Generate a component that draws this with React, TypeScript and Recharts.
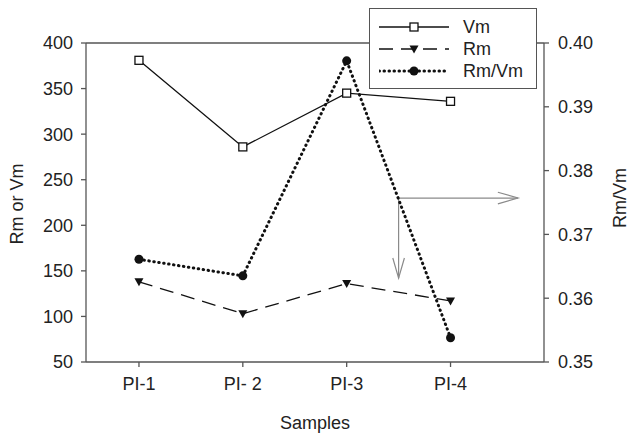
import React from 'react';
import {
  ComposedChart,
  Line,
  XAxis,
  YAxis,
  Legend,
  ReferenceLine,
} from 'recharts';

// sample positions on a numeric x axis, with their labels
const samplePos = [1, 2, 3, 4];
const sampleLabels = ['PI-1', 'PI- 2', 'PI-3', 'PI-4'];

// values
const vmValues = [381, 286, 345, 336];
const rmValues = [138, 103, 136, 117];
const ratioValues = [0.3661, 0.3635, 0.3972, 0.3538];

const leftTicks = [50, 100, 150, 200, 250, 300, 350, 400];
const rightTicks = [0.35, 0.36, 0.37, 0.38, 0.39, 0.4];

// annotation arrows (data coordinates)
const arrowRight = [
  { x: 3.5, y: 0.3757 },
  { x: 4.65, y: 0.3757 },
];
const arrowDown = [
  { x: 3.5, y: 230 },
  { x: 3.5, y: 142 },
];

const data = samplePos.map((x, i) => ({
  x,
  vm: vmValues[i],
  rm: rmValues[i],
  ratio: ratioValues[i],
}));

const FONT = 'Arial, "Liberation Sans", sans-serif';
const INK = '#111';
const AXIS = '#555';
const ARROW = '#8a8a8a';

const tickStyle = { fill: '#222', fontSize: 18, fontFamily: FONT };

const SquareDot = (props: any) => {
  const { cx, cy, index } = props;
  if (cx == null || cy == null) return null;
  return (
    <rect
      key={`sq-${index}`}
      x={cx - 4}
      y={cy - 4}
      width={8}
      height={8}
      fill="#fff"
      stroke={INK}
      strokeWidth={1.3}
    />
  );
};

const TriangleDot = (props: any) => {
  const { cx, cy, index } = props;
  if (cx == null || cy == null) return null;
  return (
    <path
      key={`tr-${index}`}
      d={`M${cx - 4.5},${cy - 3.5} L${cx + 4.5},${cy - 3.5} L${cx},${cy + 4.5} Z`}
      fill={INK}
    />
  );
};

const CircleDot = (props: any) => {
  const { cx, cy, index } = props;
  if (cx == null || cy == null) return null;
  return <circle key={`ci-${index}`} cx={cx} cy={cy} r={4.5} fill={INK} />;
};

// line with an open arrowhead at its end
const arrowShape = (props: any) => {
  const { x1, y1, x2, y2 } = props;
  const ang = Math.atan2(y2 - y1, x2 - x1);
  const len = 21;
  const spread = 0.28;
  const ax = x2 - len * Math.cos(ang - spread);
  const ay = y2 - len * Math.sin(ang - spread);
  const bx = x2 - len * Math.cos(ang + spread);
  const by = y2 - len * Math.sin(ang + spread);
  return (
    <g>
      <line x1={x1} y1={y1} x2={x2} y2={y2} stroke={ARROW} strokeWidth={1.2} />
      <polyline
        points={`${ax},${ay} ${x2},${y2} ${bx},${by}`}
        fill="none"
        stroke={ARROW}
        strokeWidth={1.2}
      />
    </g>
  );
};

// axis title at a fixed spot (tx/ty so Recharts' own x/y props don't override it)
const Title = ({ tx, ty, text, rotate }: { tx: number; ty: number; text: string; rotate?: boolean }) => (
  <text
    x={tx}
    y={ty}
    textAnchor="middle"
    dominantBaseline="central"
    transform={rotate ? `rotate(-90, ${tx}, ${ty})` : undefined}
    fill="#222"
    fontSize={18}
    fontFamily={FONT}
  >
    {text}
  </text>
);

const legendItems = [
  { name: 'Vm', dash: undefined, width: 1.3, marker: 'square' },
  { name: 'Rm', dash: '14 8', width: 1.3, marker: 'triangle' },
  { name: 'Rm/Vm', dash: '0.5 4.5', width: 3, marker: 'circle' },
];

const LegendBox = () => (
  <div
    style={{
      width: 168,
      height: 81,
      boxSizing: 'border-box',
      border: `1.3px solid ${AXIS}`,
      background: '#fff',
      paddingTop: 7,
      paddingLeft: 9,
      fontFamily: FONT,
      fontSize: 18,
      color: '#222',
    }}
  >
    {legendItems.map((it) => (
      <div key={it.name} style={{ height: 22, display: 'flex', alignItems: 'center' }}>
        <svg width={70} height={14}>
          <line
            x1={0}
            y1={7}
            x2={70}
            y2={7}
            stroke={INK}
            strokeWidth={it.width}
            strokeDasharray={it.dash}
            strokeLinecap={it.marker === 'circle' ? 'round' : 'butt'}
          />
          {it.marker === 'square' && (
            <rect x={31} y={3} width={8} height={8} fill="#fff" stroke={INK} strokeWidth={1.3} />
          )}
          {it.marker === 'triangle' && <path d="M30.5,3.5 L39.5,3.5 L35,11.5 Z" fill={INK} />}
          {it.marker === 'circle' && <circle cx={35} cy={7} r={4.5} fill={INK} />}
        </svg>
        <span style={{ marginLeft: 14, lineHeight: 1 }}>{it.name}</span>
      </div>
    ))}
  </div>
);

export default function App() {
  return (
    <div style={{ position: 'absolute', left: 0, top: 0, background: '#fff' }}>
      <ComposedChart
        width={630}
        height={437}
        data={data}
        margin={{ top: 43, right: 20, bottom: 15, left: 20 }}
      >
        <XAxis
          dataKey="x"
          type="number"
          domain={[0.49, 4.9]}
          ticks={samplePos}
          tickFormatter={(v: number) => sampleLabels[v - 1]}
          allowDataOverflow
          height={60}
          tickSize={5}
          tickMargin={10}
          tick={tickStyle}
          stroke={AXIS}
          axisLine={{ stroke: AXIS, strokeWidth: 1.3 }}
          tickLine={{ stroke: AXIS, strokeWidth: 1.3 }}
          label={<Title tx={315} ty={423} text="Samples" />}
        />
        <YAxis
          yAxisId="left"
          domain={[50, 400]}
          ticks={leftTicks}
          allowDataOverflow
          width={66}
          tickSize={5}
          tickMargin={8}
          tick={tickStyle}
          stroke={AXIS}
          axisLine={{ stroke: AXIS, strokeWidth: 1.3 }}
          tickLine={{ stroke: AXIS, strokeWidth: 1.3 }}
          label={<Title tx={17} ty={204} text="Rm  or Vm" rotate />}
        />
        <YAxis
          yAxisId="right"
          orientation="right"
          domain={[0.35, 0.4]}
          ticks={rightTicks}
          tickFormatter={(v: number) => v.toFixed(2)}
          allowDataOverflow
          width={66}
          tickSize={5}
          tickMargin={9}
          tick={tickStyle}
          stroke={AXIS}
          axisLine={{ stroke: AXIS, strokeWidth: 1.3 }}
          tickLine={{ stroke: AXIS, strokeWidth: 1.3 }}
          label={<Title tx={620} ty={198} text="Rm/Vm" rotate />}
        />
        {/* top frame line */}
        <ReferenceLine yAxisId="left" y={400} stroke={AXIS} strokeWidth={1.3} />
        <ReferenceLine
          yAxisId="right"
          segment={arrowRight}
          shape={arrowShape}
          ifOverflow="visible"
        />
        <ReferenceLine
          yAxisId="left"
          segment={arrowDown}
          shape={arrowShape}
          ifOverflow="visible"
        />
        <Line
          yAxisId="left"
          dataKey="vm"
          name="Vm"
          type="linear"
          stroke={INK}
          strokeWidth={1.3}
          dot={SquareDot}
          isAnimationActive={false}
        />
        <Line
          yAxisId="left"
          dataKey="rm"
          name="Rm"
          type="linear"
          stroke={INK}
          strokeWidth={1.3}
          strokeDasharray="14 8"
          dot={TriangleDot}
          isAnimationActive={false}
        />
        <Line
          yAxisId="right"
          dataKey="ratio"
          name="Rm/Vm"
          type="linear"
          stroke={INK}
          strokeWidth={3}
          strokeDasharray="0.5 4.5"
          strokeLinecap="round"
          dot={CircleDot}
          isAnimationActive={false}
        />
        <Legend
          layout="horizontal"
          verticalAlign="middle"
          align="center"
          wrapperStyle={{ left: 369, top: 8, width: 168, height: 81 }}
          content={() => <LegendBox />}
        />
      </ComposedChart>
    </div>
  );
}
